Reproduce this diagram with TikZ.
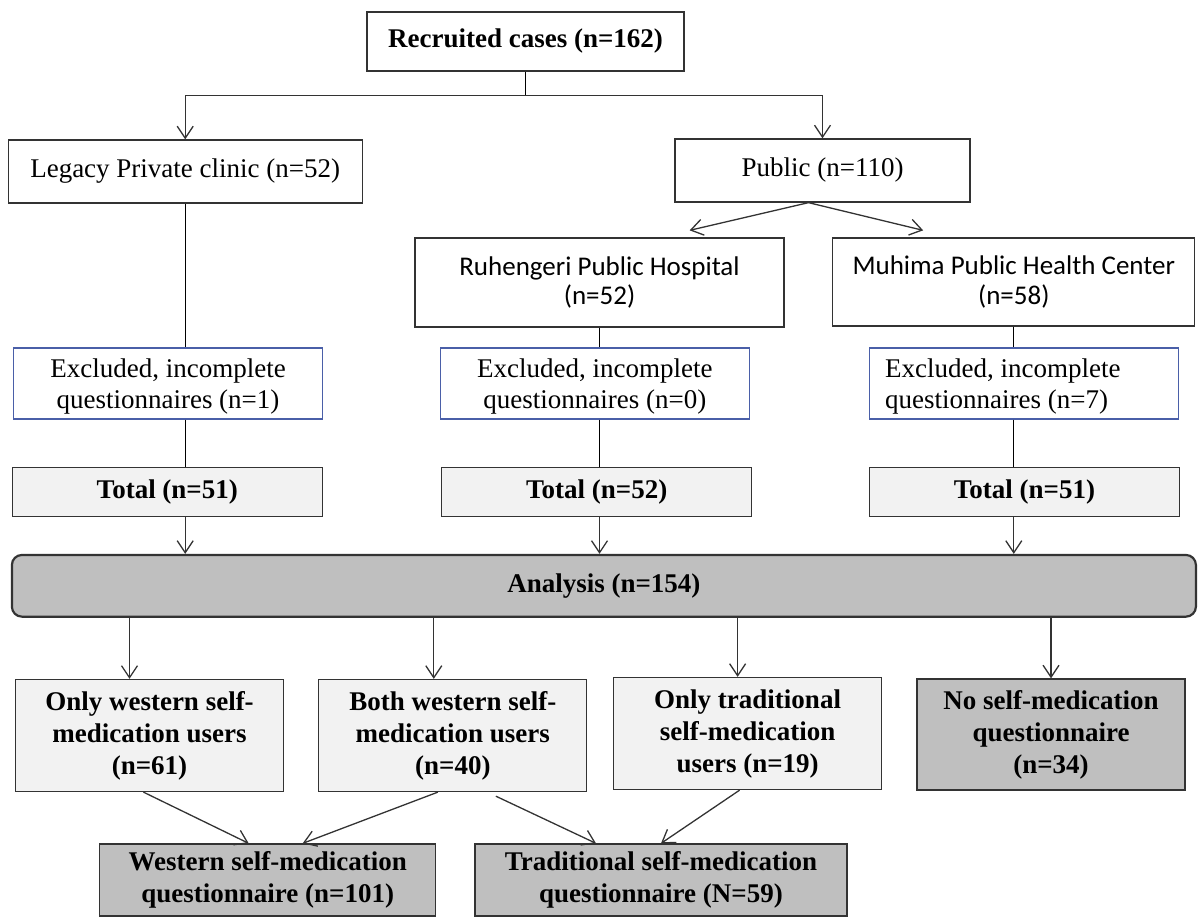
\documentclass[tikz,border=0pt]{standalone}
\usepackage{fontspec}
\setmainfont{Liberation Serif}
\newfontfamily\calibrifont{Carlito}
\usetikzlibrary{positioning,arrows.meta}
\definecolor{boxline}{HTML}{333333}
\definecolor{exclline}{HTML}{4A5FA8}
\definecolor{lightfill}{HTML}{F2F2F2}
\definecolor{darkfill}{HTML}{BFBFBF}

\begin{document}
\begin{tikzpicture}[x=1pt, y=-1pt, line width=1.3pt,
  every node/.style={align=center, inner sep=0pt, font=\fontsize{27}{31.5}\selectfont},
  plainbox/.style={draw=boxline, line width=1.3pt},
  sitebox/.style={draw=boxline, line width=1.3pt, font=\calibrifont\fontsize{27}{29.5}\selectfont},
  exclbox/.style={draw=exclline, line width=1.3pt, minimum width=309pt, minimum height=71pt, text depth=-4pt},
  totalbox/.style={draw=boxline, fill=lightfill, minimum width=310pt, minimum height=49pt,
    font=\fontsize{27}{31.5}\selectfont\bfseries},
  userbox/.style={draw=boxline, fill=lightfill, minimum width=268pt, minimum height=112pt,
    font=\fontsize{27}{32}\selectfont\bfseries},
  questbox/.style={draw=boxline, fill=darkfill, minimum height=72pt,
    font=\fontsize{27}{31.5}\selectfont\bfseries},
  flow/.style={draw=boxline, -{Straight Barb[length=12pt,width=16pt]}}]
\useasboundingbox (0,0) rectangle (1198,917);

% recruitment and sites
\node[plainbox, minimum width=317pt, minimum height=59pt,
      font=\fontsize{27}{31.5}\selectfont\bfseries] (recruited) at (525.5,41.4) {Recruited cases (n=162)};
\node[plainbox, minimum width=354pt, minimum height=63pt] (legacy) at (185.2,171.5) {Legacy Private clinic (n=52)};
\node[plainbox, minimum width=295pt, minimum height=63pt] (public) at (822.5,170.5) {Public (n=110)};
\node[sitebox, minimum width=369pt, minimum height=89pt] (ruhengeri) at (599.5,282.5) {Ruhengeri Public Hospital\\(n=52)};
\node[sitebox, minimum width=362pt, minimum height=88pt] (muhima) at (1013.8,282) {Muhima Public Health Center\\(n=58)};

% exclusions and totals
\node[exclbox] (excl1) at (168,383.5) {Excluded, incomplete\\questionnaires (n=1)};
\node[exclbox] (excl2) at (594.8,383.5) {Excluded, incomplete\\questionnaires (n=0)};
\node[exclbox, align=left] (excl3) at (1024.3,383.5) {Excluded, incomplete\hspace*{43pt}\\questionnaires (n=7)};
\node[totalbox] (total1) at (167.3,492.2) {Total (n=51)};
\node[totalbox] (total2) at (596.7,492.2) {Total (n=52)};
\node[totalbox] (total3) at (1024.5,492.2) {Total (n=51)};

\node[draw=boxline, line width=2.2pt, rounded corners=10pt, fill=darkfill,
      minimum width=1184pt, minimum height=61.7pt,
      font=\fontsize{27}{31.5}\selectfont\bfseries] (analysis) at (603.9,585.8) {Analysis (n=154)};

% user groups
\node[userbox] (onlywest) at (149.5,735.5) {Only western self-\\medication users\\(n=61)};
\node[userbox] (both) at (452.8,735.5) {Both western self-\\medication users\\(n=40)};
\node[userbox] (onlytrad) at (747.6,733.5) {Only traditional\\self-medication\\users (n=19)};
\node[userbox, fill=darkfill, minimum height=111pt] (noself) at (1051,734.5) {No self-medication\\questionnaire\\(n=34)};

\node[questbox, minimum width=336pt] (westq) at (267.7,880) {Western self-medication\\questionnaire (n=101)};
\node[questbox, minimum width=372pt] (tradq) at (661,880) {Traditional self-medication\\questionnaire (N=59)};

% connectors
\draw (recruited.south) -- ++(0,24) coordinate (split);
\draw[flow] (split) -| (legacy.north);
\draw[flow] (split) -| (public.north);
\draw[flow] ([xshift=-14pt]public.south) -- ([xshift=-95pt,yshift=7pt]ruhengeri.north east);
\draw[flow] ([xshift=-14pt]public.south) -- ([xshift=91pt,yshift=7pt]muhima.north west);

\foreach \src/\ex/\tot in {legacy/excl1/total1, ruhengeri/excl2/total2, muhima/excl3/total3} {
  \draw (\src.south) -- (\src.south |- \ex.north);
  \draw (\src.south |- \ex.south) -- (\src.south |- \tot.north);
  \draw[flow] (\src.south |- \tot.south) -- (\src.south |- analysis.north);
}

\foreach \dst/\dx in {onlywest/-20, both/-19, onlytrad/-10, noself/0} {
  \coordinate (\dst-in) at ([xshift=\dx pt]\dst.north);
  \draw[flow] (\dst-in |- analysis.south) -- (\dst-in);
}

\draw[flow] ([xshift=-6pt]onlywest.south) -- ([xshift=-19pt]westq.north);
\draw[flow] ([xshift=-15pt]both.south) -- ([xshift=35pt]westq.north);
\draw[flow] ([xshift=43pt,yshift=-4pt]both.south) -- ([xshift=-65pt]tradq.north);
\draw[flow] ([xshift=-8pt]onlytrad.south) -- (tradq.north);
\end{tikzpicture}
\end{document}
